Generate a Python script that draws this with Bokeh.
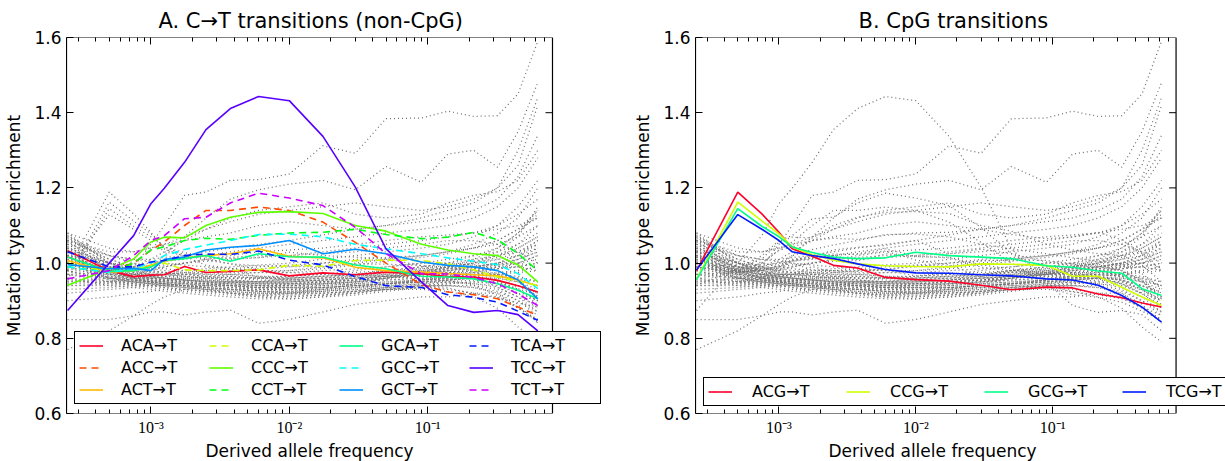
from bokeh.plotting import figure
from bokeh.models import (Range1d, LogAxis, FixedTicker, CustomJSTickFormatter,
                          NumeralTickFormatter, Legend, LegendItem, Title, BoxAnnotation)
from bokeh.layouts import row
from bokeh.embed import file_html
from bokeh.resources import INLINE

# ---------------- data ----------------
freq = [2.5e-4, 5e-4, 7.5e-4, 1e-3, 1.25e-3, 1.75e-3, 2.5e-3, 3.75e-3, 6e-3,
        1e-2, 1.75e-2, 3e-2, 5e-2, 9e-2, 0.14, 0.215, 0.32, 0.45, 0.625]

# non-CpG C->T (panel A)
ACA_T = [1.033, 0.98, 0.964, 0.968, 0.969, 0.991, 0.975, 0.978, 0.982, 0.966, 0.974, 0.969, 0.976, 0.972, 0.964, 0.963, 0.954, 0.94, 0.923]
ACC_T = [1.016, 0.98, 1.0, 1.034, 1.056, 1.100, 1.140, 1.140, 1.149, 1.140, 1.109, 1.055, 1.0, 0.943, 0.923, 0.916, 0.905, 0.883, 0.861]
ACT_T = [1.007, 0.976, 0.98, 0.995, 1.005, 1.014, 1.02, 1.025, 1.038, 1.018, 1.014, 0.989, 0.98, 0.976, 0.972, 0.969, 0.966, 0.955, 0.94]
CCA_T = [1.0, 0.976, 0.982, 0.992, 1.0, 0.982, 0.98, 0.98, 0.982, 0.994, 0.992, 1.007, 1.008, 1.007, 0.998, 0.982, 0.963, 0.952, 0.94]
CCC_T = [0.941, 0.984, 1.011, 1.056, 1.069, 1.067, 1.1, 1.122, 1.135, 1.137, 1.132, 1.1, 1.085, 1.05, 1.035, 1.025, 1.02, 0.995, 0.95]
CCT_T = [0.99, 0.975, 1.0, 1.035, 1.043, 1.060, 1.066, 1.063, 1.074, 1.08, 1.082, 1.09, 1.076, 1.065, 1.069, 1.082, 1.062, 1.025, 0.98]
GCA_T = [1.016, 0.978, 0.98, 0.99, 1.007, 1.012, 1.02, 1.005, 1.025, 1.017, 1.016, 0.995, 0.985, 0.965, 0.963, 0.958, 0.945, 0.928, 0.905]
GCC_T = [0.99, 0.975, 0.985, 1.0, 1.02, 1.036, 1.048, 1.06, 1.076, 1.077, 1.07, 1.05, 1.038, 1.025, 1.014, 1.005, 0.996, 0.972, 0.932]
GCT_T = [0.996, 0.985, 0.986, 0.98, 1.01, 1.016, 1.035, 1.042, 1.047, 1.06, 1.025, 1.037, 1.025, 1.003, 0.994, 0.99, 0.98, 0.955, 0.905]
TCA_T = [1.03, 0.99, 0.99, 1.003, 1.007, 1.02, 1.024, 1.023, 1.032, 1.008, 0.995, 0.964, 0.94, 0.935, 0.916, 0.909, 0.896, 0.872, 0.848]
TCC_T = [0.874, 1.0, 1.073, 1.158, 1.199, 1.268, 1.355, 1.411, 1.443, 1.432, 1.337, 1.202, 1.038, 0.95, 0.887, 0.869, 0.874, 0.863, 0.82]
TCT_T = [0.958, 0.98, 1.02, 1.06, 1.073, 1.118, 1.122, 1.16, 1.186, 1.173, 1.153, 1.095, 1.025, 0.972, 0.971, 0.962, 0.945, 0.918, 0.887]

noncpg_labels = ["ACA→T", "ACC→T", "ACT→T", "CCA→T", "CCC→T", "CCT→T",
                 "GCA→T", "GCC→T", "GCT→T", "TCA→T", "TCC→T", "TCT→T"]
noncpg_values = [ACA_T, ACC_T, ACT_T, CCA_T, CCC_T, CCT_T,
                 GCA_T, GCC_T, GCT_T, TCA_T, TCC_T, TCT_T]
noncpg_colors = ["#ff0029", "#ff4900", "#ffbc00", "#cfff00", "#5cff00", "#00ff17",
                 "#00ff89", "#00fffb", "#008fff", "#001cff", "#5800ff", "#cb00ff"]

# CpG transitions (panel B)
ACG_T = [0.98, 1.189, 1.131, 1.082, 1.038, 1.018, 0.994, 0.987, 0.962, 0.956, 0.952, 0.941, 0.929, 0.936, 0.934, 0.918, 0.908, 0.894, 0.883]
CCG_T = [0.958, 1.162, 1.112, 1.078, 1.043, 1.022, 1.008, 0.998, 0.993, 0.991, 0.99, 0.998, 0.997, 0.994, 0.965, 0.965, 0.936, 0.91, 0.887]
GCG_T = [0.956, 1.145, 1.098, 1.07, 1.043, 1.028, 1.016, 1.012, 1.014, 1.029, 1.02, 1.016, 1.012, 0.993, 0.989, 0.979, 0.973, 0.932, 0.914]
TCG_T = [0.982, 1.129, 1.09, 1.06, 1.03, 1.02, 1.012, 0.998, 0.983, 0.974, 0.973, 0.969, 0.966, 0.958, 0.955, 0.941, 0.914, 0.883, 0.843]

cpg_labels = ["ACG→T", "CCG→T", "GCG→T", "TCG→T"]
cpg_values = [ACG_T, CCG_T, GCG_T, TCG_T]
cpg_colors = ["#ff0029", "#cfff00", "#00ff89", "#001cff"]

# all other mutation types (grey background in both panels)
other_01 = [1.0, 0.97, 0.99, 1.05, 1.1, 1.18, 1.189, 1.22, 1.222, 1.237, 1.312, 1.292, 1.384, 1.386, 1.404, 1.39, 1.392, 1.45, 1.59]
other_02 = [0.98, 0.95, 0.96, 0.99, 1.02, 1.07, 1.12, 1.17, 1.195, 1.21, 1.22, 1.195, 1.257, 1.215, 1.29, 1.3, 1.255, 1.35, 1.48]
other_03 = [0.85, 0.85, 0.86, 0.87, 0.87, 0.862, 0.87, 0.875, 0.84, 0.85, 0.87, 0.89, 0.9, 0.91, 0.91, 0.92, 0.92, 0.88, 0.85]
other_04 = [0.77, 0.82, 0.86, 0.89, 0.91, 0.93, 0.94, 0.95, 0.95, 0.96, 0.965, 0.97, 0.975, 0.98, 0.985, 0.99, 0.995, 1.0, 1.01]
other_05 = [1.0, 0.96, 0.95, 0.945, 0.94, 0.94, 0.935, 0.93, 0.925, 0.92, 0.92, 0.925, 0.93, 0.93, 0.925, 0.91, 0.88, 0.83, 0.79]
other_06 = [1.08, 1.0, 0.97, 0.96, 0.955, 0.95, 0.95, 0.945, 0.94, 0.94, 0.945, 0.95, 0.955, 0.96, 0.965, 0.97, 0.975, 0.98, 0.99]
other_07 = [1.06, 0.98, 0.96, 0.95, 0.95, 0.945, 0.94, 0.935, 0.93, 0.93, 0.935, 0.94, 0.945, 0.95, 0.955, 0.96, 0.96, 0.95, 0.93]
other_08 = [1.05, 0.99, 0.975, 0.97, 0.965, 0.965, 0.96, 0.96, 0.955, 0.955, 0.96, 0.965, 0.97, 0.975, 0.98, 0.99, 1.0, 1.01, 1.03]
other_09 = [1.03, 0.97, 0.955, 0.95, 0.945, 0.94, 0.935, 0.93, 0.925, 0.925, 0.93, 0.935, 0.94, 0.945, 0.95, 0.945, 0.94, 0.92, 0.9]
other_10 = [1.02, 0.96, 0.95, 0.945, 0.94, 0.935, 0.93, 0.925, 0.92, 0.92, 0.925, 0.93, 0.935, 0.94, 0.94, 0.935, 0.925, 0.9, 0.87]
other_11 = [1.0, 0.955, 0.945, 0.94, 0.935, 0.93, 0.925, 0.92, 0.915, 0.915, 0.92, 0.925, 0.93, 0.935, 0.93, 0.92, 0.91, 0.88, 0.85]
other_12 = [0.98, 0.96, 0.955, 0.95, 0.95, 0.948, 0.945, 0.94, 0.935, 0.935, 0.94, 0.945, 0.95, 0.955, 0.96, 0.965, 0.97, 0.975, 0.98]
other_13 = [0.96, 0.95, 0.95, 0.955, 0.955, 0.955, 0.95, 0.95, 0.945, 0.945, 0.95, 0.955, 0.96, 0.965, 0.97, 0.98, 0.99, 1.0, 1.02]
other_14 = [0.94, 0.94, 0.945, 0.95, 0.955, 0.96, 0.96, 0.965, 0.96, 0.96, 0.965, 0.97, 0.975, 0.98, 0.985, 0.99, 1.0, 1.02, 1.05]
other_15 = [0.92, 0.93, 0.935, 0.94, 0.94, 0.94, 0.935, 0.93, 0.93, 0.93, 0.935, 0.94, 0.945, 0.95, 0.955, 0.96, 0.955, 0.94, 0.92]
other_16 = [1.07, 1.02, 1.0, 0.99, 0.985, 0.98, 0.98, 0.975, 0.975, 0.975, 0.98, 0.985, 0.99, 1.0, 1.01, 1.02, 1.03, 1.05, 1.08]
other_17 = [1.04, 1.0, 0.99, 0.985, 0.98, 0.975, 0.97, 0.97, 0.965, 0.965, 0.97, 0.975, 0.98, 0.985, 0.99, 1.0, 1.01, 1.02, 1.04]
other_18 = [1.01, 0.98, 0.97, 0.965, 0.96, 0.955, 0.955, 0.95, 0.95, 0.95, 0.955, 0.96, 0.965, 0.97, 0.975, 0.975, 0.97, 0.96, 0.94]
other_19 = [0.99, 0.97, 0.965, 0.96, 0.96, 0.96, 0.965, 0.97, 0.975, 0.98, 0.99, 1.0, 1.01, 1.02, 1.03, 1.04, 1.05, 1.07, 1.1]
other_20 = [1.0, 0.99, 0.985, 0.99, 0.995, 1.0, 1.005, 1.01, 1.015, 1.02, 1.03, 1.04, 1.05, 1.06, 1.07, 1.08, 1.1, 1.13, 1.17]
other_21 = [1.02, 1.0, 0.995, 1.0, 1.005, 1.01, 1.02, 1.03, 1.04, 1.05, 1.06, 1.07, 1.08, 1.09, 1.1, 1.12, 1.15, 1.2, 1.28]
other_22 = [1.05, 1.02, 1.01, 1.01, 1.015, 1.02, 1.03, 1.04, 1.05, 1.06, 1.075, 1.09, 1.1, 1.11, 1.12, 1.14, 1.17, 1.23, 1.34]
other_23 = [0.97, 0.975, 0.98, 0.985, 0.99, 1.0, 1.01, 1.02, 1.03, 1.035, 1.04, 1.05, 1.06, 1.07, 1.075, 1.08, 1.09, 1.1, 1.12]
other_24 = [1.06, 1.03, 1.03, 1.04, 1.05, 1.07, 1.09, 1.11, 1.13, 1.14, 1.15, 1.16, 1.15, 1.14, 1.15, 1.17, 1.2, 1.26, 1.42]
other_25 = [0.95, 0.96, 0.97, 0.98, 0.99, 1.0, 1.01, 1.015, 1.02, 1.02, 1.025, 1.03, 1.04, 1.05, 1.06, 1.06, 1.05, 1.03, 1.0]
other_26 = [1.03, 1.0, 0.985, 0.98, 0.975, 0.97, 0.965, 0.96, 0.96, 0.965, 0.97, 0.98, 0.99, 1.0, 1.0, 0.995, 0.98, 0.95, 0.91]
other_27 = [0.9, 0.91, 0.92, 0.925, 0.93, 0.93, 0.925, 0.92, 0.915, 0.91, 0.915, 0.92, 0.93, 0.935, 0.94, 0.94, 0.93, 0.9, 0.86]
other_28 = [1.0, 0.97, 0.96, 0.96, 0.965, 0.97, 0.975, 0.98, 0.985, 0.99, 1.0, 1.01, 1.015, 1.02, 1.03, 1.05, 1.08, 1.12, 1.2]
other_29 = [1.04, 1.0, 0.98, 0.97, 0.97, 0.965, 0.96, 0.955, 0.95, 0.95, 0.955, 0.965, 0.975, 0.985, 0.995, 1.005, 1.02, 1.04, 1.07]
other_30 = [0.97, 0.95, 0.945, 0.94, 0.94, 0.935, 0.93, 0.92, 0.91, 0.905, 0.91, 0.92, 0.93, 0.94, 0.95, 0.955, 0.95, 0.93, 0.9]
other_31 = [1.02, 0.98, 0.97, 0.96, 0.955, 0.95, 0.945, 0.94, 0.94, 0.945, 0.95, 0.96, 0.97, 0.975, 0.98, 0.985, 0.99, 0.99, 0.98]
other_32 = [1.0, 0.98, 0.99, 1.01, 1.03, 1.06, 1.09, 1.12, 1.14, 1.15, 1.16, 1.13, 1.12, 1.13, 1.16, 1.18, 1.19, 1.22, 1.3]
other_33 = [1.08, 1.04, 1.03, 1.04, 1.05, 1.06, 1.07, 1.08, 1.1, 1.11, 1.1, 1.09, 1.1, 1.12, 1.14, 1.16, 1.2, 1.3, 1.44]
other_34 = [0.95, 0.95, 0.94, 0.935, 0.93, 0.925, 0.92, 0.915, 0.91, 0.91, 0.915, 0.925, 0.935, 0.945, 0.955, 0.96, 0.965, 0.96, 0.95]
other_35 = [1.05, 0.985, 0.965, 0.955, 0.95, 0.945, 0.945, 0.94, 0.935, 0.93, 0.93, 0.935, 0.94, 0.95, 0.96, 0.97, 0.985, 1.0, 1.02]
other_36 = [1.07, 0.99, 0.97, 0.965, 0.96, 0.955, 0.95, 0.95, 0.945, 0.945, 0.95, 0.955, 0.965, 0.975, 0.99, 1.0, 1.02, 1.05, 1.1]
other_37 = [0.93, 0.935, 0.94, 0.945, 0.945, 0.94, 0.94, 0.935, 0.93, 0.925, 0.93, 0.935, 0.945, 0.955, 0.96, 0.965, 0.97, 0.98, 0.99]
other_38 = [1.01, 0.965, 0.955, 0.95, 0.945, 0.94, 0.94, 0.935, 0.935, 0.94, 0.945, 0.955, 0.965, 0.975, 0.985, 0.995, 1.01, 1.03, 1.06]
other_39 = [0.99, 0.96, 0.96, 0.965, 0.97, 0.975, 0.975, 0.97, 0.965, 0.96, 0.96, 0.965, 0.97, 0.98, 0.99, 1.0, 1.015, 1.04, 1.07]
other_40 = [1.04, 0.975, 0.96, 0.955, 0.95, 0.95, 0.945, 0.94, 0.94, 0.94, 0.94, 0.945, 0.95, 0.955, 0.96, 0.96, 0.955, 0.94, 0.91]
other_41 = [0.96, 0.94, 0.935, 0.93, 0.925, 0.92, 0.915, 0.91, 0.905, 0.905, 0.91, 0.915, 0.925, 0.935, 0.945, 0.95, 0.95, 0.93, 0.89]
other_42 = [1.02, 0.99, 0.98, 0.975, 0.975, 0.98, 0.985, 0.99, 0.995, 1.0, 1.01, 1.02, 1.03, 1.04, 1.05, 1.07, 1.1, 1.15, 1.22]
other_43 = [1.06, 1.01, 0.99, 0.98, 0.975, 0.97, 0.965, 0.96, 0.96, 0.96, 0.965, 0.97, 0.98, 0.99, 1.0, 1.01, 1.02, 1.03, 1.05]
other_44 = [0.98, 0.955, 0.95, 0.945, 0.945, 0.945, 0.94, 0.94, 0.935, 0.935, 0.935, 0.94, 0.945, 0.95, 0.95, 0.945, 0.935, 0.91, 0.87]
other_45 = [1.0, 0.975, 0.97, 0.97, 0.97, 0.97, 0.97, 0.965, 0.96, 0.955, 0.955, 0.96, 0.965, 0.97, 0.975, 0.98, 0.985, 0.99, 1.0]
other_46 = [0.94, 0.945, 0.95, 0.95, 0.945, 0.94, 0.93, 0.92, 0.915, 0.92, 0.93, 0.945, 0.96, 0.975, 0.99, 1.01, 1.04, 1.08, 1.14]
other_47 = [1.03, 0.99, 0.975, 0.97, 0.97, 0.975, 0.98, 0.985, 0.99, 0.995, 1.0, 1.005, 1.01, 1.02, 1.03, 1.04, 1.06, 1.09, 1.12]
other_48 = [1.075, 1.0, 0.975, 0.965, 0.96, 0.955, 0.95, 0.945, 0.94, 0.935, 0.935, 0.94, 0.945, 0.955, 0.965, 0.975, 0.99, 1.01, 1.04]
other_49 = [1.045, 0.98, 0.96, 0.95, 0.945, 0.94, 0.935, 0.93, 0.925, 0.92, 0.92, 0.925, 0.935, 0.945, 0.955, 0.96, 0.96, 0.95, 0.92]
other_50 = [1.065, 1.01, 0.99, 0.975, 0.97, 0.965, 0.96, 0.955, 0.95, 0.95, 0.95, 0.955, 0.96, 0.97, 0.98, 0.99, 1.0, 1.02, 1.06]
other_51 = [1.025, 0.975, 0.96, 0.955, 0.955, 0.955, 0.955, 0.955, 0.95, 0.945, 0.945, 0.95, 0.955, 0.96, 0.965, 0.97, 0.97, 0.965, 0.95]
other_52 = [0.955, 0.945, 0.94, 0.94, 0.935, 0.93, 0.925, 0.92, 0.92, 0.92, 0.925, 0.935, 0.945, 0.955, 0.965, 0.975, 0.985, 0.99, 1.0]
other_53 = [1.015, 0.97, 0.965, 0.96, 0.955, 0.95, 0.945, 0.94, 0.935, 0.935, 0.94, 0.95, 0.96, 0.97, 0.98, 0.99, 1.0, 1.0, 0.99]
other_54 = [0.985, 0.965, 0.96, 0.955, 0.95, 0.945, 0.945, 0.945, 0.945, 0.95, 0.955, 0.96, 0.965, 0.97, 0.97, 0.965, 0.955, 0.93, 0.9]
other_55 = [1.055, 1.0, 0.98, 0.97, 0.965, 0.96, 0.955, 0.95, 0.945, 0.945, 0.945, 0.95, 0.96, 0.97, 0.985, 1.0, 1.03, 1.07, 1.15]
other_56 = [0.97, 0.96, 0.955, 0.95, 0.945, 0.94, 0.93, 0.925, 0.92, 0.915, 0.915, 0.92, 0.93, 0.94, 0.945, 0.95, 0.945, 0.92, 0.88]
other_57 = [1.035, 0.985, 0.97, 0.965, 0.96, 0.955, 0.95, 0.95, 0.95, 0.955, 0.96, 0.97, 0.98, 0.99, 1.0, 1.02, 1.04, 1.08, 1.13]
other_58 = [0.945, 0.95, 0.955, 0.96, 0.96, 0.955, 0.95, 0.945, 0.94, 0.94, 0.945, 0.95, 0.96, 0.965, 0.975, 0.985, 0.995, 1.01, 1.03]
other_59 = [1.005, 0.96, 0.95, 0.945, 0.94, 0.935, 0.93, 0.93, 0.925, 0.925, 0.925, 0.93, 0.935, 0.94, 0.94, 0.935, 0.92, 0.89, 0.84]
other_60 = [1.06, 1.02, 1.01, 1.005, 1.0, 0.995, 0.99, 0.985, 0.98, 0.98, 0.985, 0.995, 1.005, 1.015, 1.025, 1.04, 1.06, 1.09, 1.14]

others = [other_01, other_02, other_03, other_04, other_05, other_06, other_07,
          other_08, other_09, other_10, other_11, other_12, other_13, other_14,
          other_15, other_16, other_17, other_18, other_19, other_20, other_21,
          other_22, other_23, other_24, other_25, other_26, other_27, other_28,
          other_29, other_30, other_31, other_32, other_33, other_34, other_35,
          other_36, other_37, other_38, other_39, other_40, other_41, other_42,
          other_43, other_44, other_45, other_46, other_47, other_48, other_49,
          other_50, other_51, other_52, other_53, other_54, other_55, other_56,
          other_57, other_58, other_59, other_60]

x_major = [1e-3, 1e-2, 1e-1]
x_minor = [3e-4, 4e-4, 5e-4, 6e-4, 7e-4, 8e-4, 9e-4,
           2e-3, 3e-3, 4e-3, 5e-3, 6e-3, 7e-3, 8e-3, 9e-3,
           2e-2, 3e-2, 4e-2, 5e-2, 6e-2, 7e-2, 8e-2, 9e-2,
           2e-1, 3e-1, 4e-1, 5e-1, 6e-1, 7e-1]
y_major = [0.6, 0.8, 1.0, 1.2, 1.4, 1.6]
y_inner = [0.8, 1.0, 1.2, 1.4]

# axes box: log10 x from -3.61 to -0.098 spread over 486 px
LOG_LO, LOG_HI = -3.61, -0.098
BOX_PX = 486
PX_PER_DEC = BOX_PX / (LOG_HI - LOG_LO)
X_START = 10 ** LOG_LO
X_BOX = 10 ** LOG_HI

FONT = "DejaVu Sans"

sup_code = """
const e = Math.round(Math.log10(tick));
const m = {'-':'\u207b','0':'\u2070','1':'\u00b9','2':'\u00b2','3':'\u00b3','4':'\u2074'};
return '10' + String(e).split('').map(c => m[c]).join('');
"""


def make_panel(title, title_off, label_off, hl_values, hl_labels, hl_colors, hl_dashes,
               grey, width, left, frame_w, legend_kw):
    right = width - left - frame_w
    x_end = 10 ** (LOG_LO + frame_w / PX_PER_DEC)
    p = figure(width=width, height=461, x_axis_type="log",
               x_range=Range1d(X_START, x_end), y_range=Range1d(0.6, 1.6),
               output_backend="svg", toolbar_location=None,
               min_border_left=left, min_border_right=right,
               min_border_top=37, min_border_bottom=48)
    p.xgrid.visible = False
    p.ygrid.visible = False
    p.outline_line_color = None
    p.background_fill_color = "white"
    p.border_fill_color = "white"

    p.title.text = title
    p.title.align = "left"
    p.title.offset = title_off
    p.title.text_font = FONT
    p.title.text_font_size = "21px"
    p.title.text_font_style = "normal"
    p.title.text_color = "black"

    xa = p.xaxis[0]
    xa.ticker = FixedTicker(ticks=x_major, minor_ticks=x_minor)
    xa.formatter = CustomJSTickFormatter(code=sup_code)
    xa.major_label_text_font = "Liberation Serif"
    xa.major_label_text_font_size = "16px"
    xa.major_label_standoff = 5
    xa.axis_line_color = None

    ya = p.yaxis[0]
    ya.ticker = FixedTicker(ticks=y_major)
    ya.formatter = NumeralTickFormatter(format="0.0")
    ya.major_label_text_font = FONT
    ya.major_label_text_font_size = "17px"
    ya.major_label_standoff = 5
    ya.axis_label = "Mutation type enrichment"
    ya.axis_label_text_font = FONT
    ya.axis_label_text_font_size = "17px"
    ya.axis_label_text_font_style = "normal"
    ya.axis_label_text_color = "black"
    ya.axis_label_standoff = 7
    ya.axis_line_color = "black"

    for ax in (xa, ya):
        ax.major_tick_in = 7
        ax.major_tick_out = 0
        ax.minor_tick_in = 4
        ax.minor_tick_out = 0
        ax.major_tick_line_color = "black"
        ax.minor_tick_line_color = "black"
        ax.major_label_text_color = "black"

    top = LogAxis(ticker=FixedTicker(ticks=x_major, minor_ticks=x_minor),
                  formatter=CustomJSTickFormatter(code="return ''"),
                  major_tick_in=7, major_tick_out=0, minor_tick_in=4, minor_tick_out=0,
                  major_label_standoff=0, major_label_text_font_size="1px",
                  axis_line_color=None)
    p.add_layout(top, "above")

    xlabel = Title(text="Derived allele frequency", align="left", offset=label_off,
                   text_font=FONT, text_font_size="17px", text_font_style="normal",
                   text_color="black", standoff=0)
    p.add_layout(xlabel, "below")

    # grey background: every other mutation type
    p.multi_line(xs=[freq] * len(grey), ys=grey, line_color="#707070",
                 line_width=1.25, line_dash="1 3")

    items = []
    for vals, lab, col, dash in zip(hl_values, hl_labels, hl_colors, hl_dashes):
        r = p.line(freq, vals, line_color=col, line_width=1.6, line_dash=dash)
        items.append(LegendItem(label=lab, renderers=[r]))

    # axes box (narrower than the frame so the legend may stick out, as in the original)
    p.add_layout(BoxAnnotation(left=X_START, right=X_BOX, bottom=0.6, top=1.6,
                               fill_alpha=0, line_color="black", line_width=1.2,
                               line_alpha=1.0))
    # inward ticks on the right edge of the box
    tick_len = 10 ** (7 / PX_PER_DEC)
    p.segment(x0=[X_BOX] * len(y_inner), x1=[X_BOX / tick_len] * len(y_inner),
              y0=y_inner, y1=y_inner, line_color="black", line_width=1)

    leg = Legend(items=items, label_text_font=FONT, label_text_font_size="16px",
                 label_text_color="black",
                 glyph_width=24, glyph_height=19, label_height=19,
                 spacing=3, padding=4, border_line_color="black", border_line_width=1,
                 border_line_alpha=1.0, background_fill_alpha=1.0, margin=0,
                 **legend_kw)
    p.add_layout(leg, "center")
    return p


dashes_a = ["solid" if i % 2 == 0 else "7 5" for i in range(12)]
pA = make_panel("A. C→T transitions (non-CpG)", 92, 139, noncpg_values, noncpg_labels,
                noncpg_colors, dashes_a, cpg_values + others,
                630, 66, 546,
                dict(location=(8, 9), orientation="vertical", nrows=3,
                     label_standoff=18, label_width=85))
pB = make_panel("B. CpG transitions", 163, 133, cpg_values, cpg_labels, cpg_colors,
                ["solid"] * 4, noncpg_values + others,
                595, 59, 536,
                dict(location=(8, 7), orientation="horizontal",
                     label_standoff=20, label_width=91))

layout = row(pA, pB)
open("out.html", "w").write(file_html(layout, INLINE))
